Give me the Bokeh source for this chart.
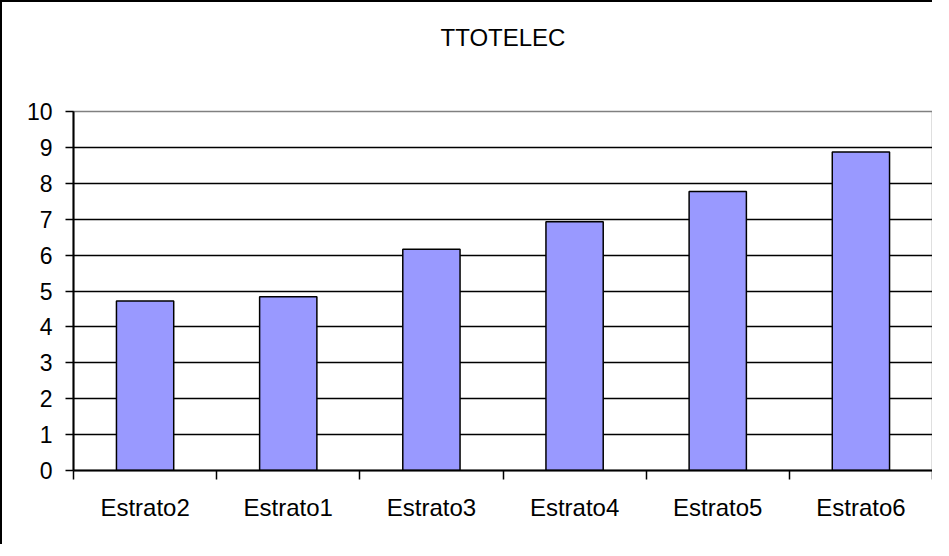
from bokeh.plotting import figure
from bokeh.models import Range1d, FixedTicker, LinearAxis
from bokeh.embed import file_html
from bokeh.resources import INLINE

title = "TTOTELEC"
categories = ["Estrato2", "Estrato1", "Estrato3", "Estrato4", "Estrato5", "Estrato6"]
values = [4.72, 4.84, 6.16, 6.93, 7.77, 8.87]
y_ticks = [0, 1, 2, 3, 4, 5, 6, 7, 8, 9, 10]

FONT = "Liberation Sans"

centers = [i + 0.5 for i in range(len(categories))]
bounds = [i for i in range(len(categories) + 1)]

p = figure(width=932, height=544, output_backend="svg", toolbar_location=None,
           x_range=Range1d(0, len(categories)), y_range=Range1d(0, 10),
           min_border_left=71, min_border_right=2, min_border_top=109, min_border_bottom=76)
p.styles = {"border-left": "2px solid black", "border-top": "2px solid black"}

xa = p.below[0]
ya = p.left[0]

p.vbar(x=centers, top=values, width=0.4, bottom=0,
       fill_color="#9999FF", line_color="black", line_width=1.5)

# invisible spacer between the plot area and the title
spacer = LinearAxis(ticker=FixedTicker(ticks=[0]), major_tick_out=61, major_tick_in=0,
                    major_tick_line_color=None, minor_tick_line_color=None,
                    axis_line_color=None, major_label_standoff=0,
                    major_label_overrides={0: ""}, major_label_text_font_size="1px")
p.add_layout(spacer, "above")

p.title.text = title
p.title.align = "center"
p.title.text_font = FONT
p.title.text_font_size = "24px"
p.title.text_font_style = "normal"
p.title.text_color = "black"
p.title.offset = -26
p.title.standoff = 0

p.outline_line_color = "#808080"
p.outline_line_width = 1.5

# x axis
xa.ticker = FixedTicker(ticks=centers, minor_ticks=bounds)
xa.major_label_overrides = {c: n for c, n in zip(centers, categories)}
xa.major_tick_line_color = None
xa.major_tick_out = 0
xa.major_tick_in = 0
xa.minor_tick_out = 9
xa.minor_tick_in = 0
xa.minor_tick_line_color = "black"
xa.minor_tick_line_width = 1.5
xa.axis_line_color = "black"
xa.axis_line_width = 2
xa.major_label_text_font = FONT
xa.major_label_text_font_size = "24px"
xa.major_label_text_color = "black"
xa.major_label_standoff = 14

# y axis
ya.ticker = FixedTicker(ticks=y_ticks)
ya.major_tick_out = 8
ya.major_tick_in = 0
ya.minor_tick_line_color = None
ya.major_tick_line_width = 1.5
ya.axis_line_color = "black"
ya.axis_line_width = 2
ya.major_label_text_font = FONT
ya.major_label_text_font_size = "23px"
ya.major_label_text_color = "black"
ya.major_label_standoff = 13

p.xgrid.grid_line_color = None
p.ygrid.grid_line_color = "black"
p.ygrid.grid_line_width = 1.5
p.ygrid.ticker = FixedTicker(ticks=y_ticks)

open("out.html", "w").write(file_html(p, INLINE))
